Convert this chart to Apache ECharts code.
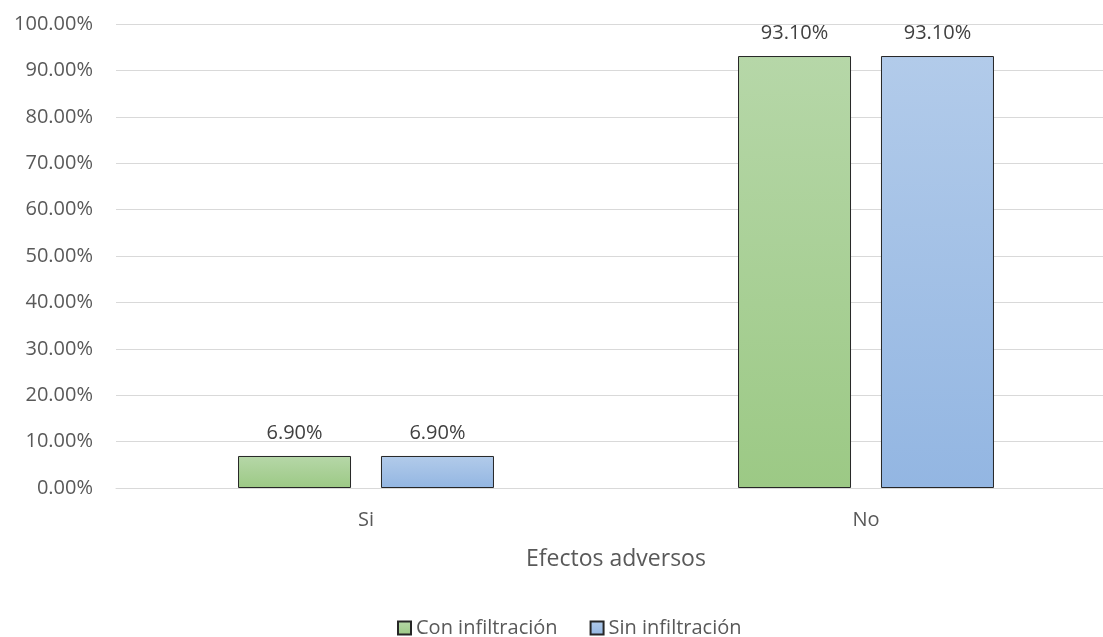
<!DOCTYPE html>
<html>
<head>
<meta charset="utf-8">
<script src="https://cdn.jsdelivr.net/npm/echarts@6/dist/echarts.min.js"></script>
<style>
  html, body { margin: 0; padding: 0; background: #fff; }
  #chart { width: 1103px; height: 637px; }
</style>
</head>
<body>
<div id="chart"></div>
<script>
const categories = ['Si', 'No'];
const seriesNames = ['Con infiltración', 'Sin infiltración'];
const conInfiltracion = [6.90, 93.10];
const sinInfiltracion = [6.90, 93.10];
const axisTitle = 'Efectos adversos';

const FONT = '"Open Sans", "Noto Sans", sans-serif';

function grad(top, bottom) {
  return new echarts.graphic.LinearGradient(0, 0, 0, 1, [
    { offset: 0, color: top },
    { offset: 1, color: bottom }
  ]);
}

const chart = echarts.init(document.getElementById('chart'), null, { renderer: 'canvas' });

const labelCfg = {
  show: true,
  position: 'top',
  distance: 13,
  color: '#404040',
  fontFamily: FONT,
  fontSize: 20,
  formatter: p => p.value.toFixed(2) + '%'
};

chart.setOption({
  animation: false,
  textStyle: { fontFamily: FONT },
  grid: {
    left: 116, width: 1000, top: 24, height: 464,
    containLabel: false,
    outerBoundsMode: 'none'
  },
  legend: {
    top: 613,
    left: 392,
    icon: 'rect',
    itemWidth: 13,
    itemHeight: 13,
    itemGap: 32,
    textStyle: { color: '#595959', fontSize: 20, fontFamily: FONT },
    data: seriesNames
  },
  xAxis: {
    type: 'category',
    data: categories,
    name: axisTitle,
    nameLocation: 'middle',
    nameGap: 60,
    nameTextStyle: { color: '#595959', fontSize: 23, fontFamily: FONT },
    axisLine: { lineStyle: { color: '#d9d9d9', width: 1 } },
    axisTick: { show: false },
    axisLabel: { color: '#595959', fontSize: 20, margin: 22, fontFamily: FONT }
  },
  yAxis: {
    type: 'value',
    min: 0,
    max: 100,
    interval: 10,
    axisLine: { show: false },
    axisTick: { show: false },
    splitLine: { lineStyle: { color: '#d9d9d9', width: 1 } },
    axisLabel: {
      color: '#595959', fontSize: 20, margin: 23, fontFamily: FONT,
      formatter: v => v.toFixed(2) + '%'
    }
  },
  series: [
    {
      name: seriesNames[0],
      type: 'bar',
      data: conInfiltracion,
      barWidth: 113,
      barGap: '26.5%',
      itemStyle: { color: grad('#b6d7a8', '#9cc985'), borderColor: '#262626', borderWidth: 1 },
      label: labelCfg
    },
    {
      name: seriesNames[1],
      type: 'bar',
      data: sinInfiltracion,
      barWidth: 113,
      barGap: '26.5%',
      itemStyle: { color: grad('#b2cbea', '#93b6e2'), borderColor: '#262626', borderWidth: 1 },
      label: labelCfg
    }
  ]
});
</script>
</body>
</html>
